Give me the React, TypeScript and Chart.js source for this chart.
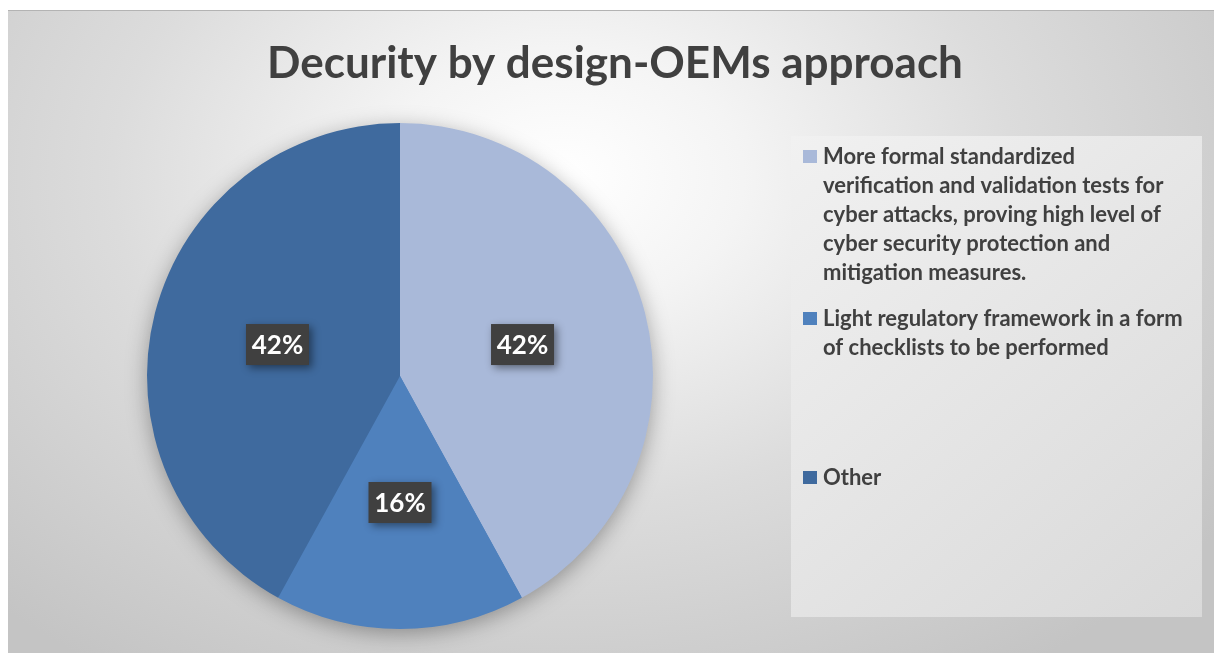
import React, { useEffect, useRef } from "react";
import { Chart, registerables } from "chart.js";

Chart.register(...registerables);

const titleText = "Decurity by design-OEMs approach";
const categories: string[][] = [
  [
    "More formal standardized",
    "verification and validation tests for",
    "cyber attacks, proving high level of",
    "cyber security protection and",
    "mitigation measures.",
  ],
  ["Light regulatory framework in a form", "of checklists to be performed"],
  ["Other"],
];
const values = [42, 16, 42];
const colors = ["#A9B9D9", "#4F81BD", "#3F6A9E"];
const legendItemY = [147, 309, 468]; // first-line centers (container coords)

const W = 1206;
const H = 643;

const decorPlugin = {
  id: "decor",
  beforeDatasetsDraw(chart: any) {
    const ctx = chart.ctx as CanvasRenderingContext2D;
    const meta = chart.getDatasetMeta(0);
    const arc = meta.data[0];
    if (!arc) return;
    const { x, y, outerRadius } = arc.getProps(["x", "y", "outerRadius"], true);
    ctx.save();
    ctx.shadowColor = "rgba(0,0,0,0.35)";
    ctx.shadowBlur = 22;
    ctx.shadowOffsetY = 5;
    ctx.fillStyle = colors[1];
    ctx.beginPath();
    ctx.arc(x, y, outerRadius - 1, 0, Math.PI * 2);
    ctx.fill();
    ctx.restore();
  },
  afterDatasetsDraw(chart: any) {
    const ctx = chart.ctx as CanvasRenderingContext2D;
    const meta = chart.getDatasetMeta(0);
    const total = values.reduce((a, b) => a + b, 0);
    meta.data.forEach((el: any, i: number) => {
      const p = el.tooltipPosition();
      const txt = Math.round((values[i] / total) * 100) + "%";
      const bw = 63;
      const bh = 41;
      ctx.save();
      ctx.shadowColor = "rgba(0,0,0,0.45)";
      ctx.shadowBlur = 8;
      ctx.shadowOffsetX = 3;
      ctx.shadowOffsetY = 3;
      ctx.fillStyle = "#404040";
      ctx.fillRect(p.x - bw / 2, p.y - bh / 2, bw, bh);
      ctx.restore();
      ctx.save();
      ctx.fillStyle = "#ffffff";
      ctx.font = "bold 26px Lato";
      ctx.textAlign = "center";
      ctx.textBaseline = "middle";
      ctx.fillText(txt, p.x, p.y + 1);
      ctx.restore();
    });
  },
  afterDraw(chart: any) {
    const ctx = chart.ctx as CanvasRenderingContext2D;
    // title
    ctx.save();
    ctx.fillStyle = "#404040";
    ctx.font = "bold 44px Lato";
    ctx.textAlign = "center";
    ctx.textBaseline = "alphabetic";
    ctx.fillText(titleText, W / 2 + 4, 68);
    ctx.restore();

    // legend box
    const bx = 783, by = 126, bw = 411, bh = 481;
    ctx.save();
    const g = ctx.createLinearGradient(bx, by, bx + bw, by + bh);
    g.addColorStop(0, "#f1f1f1");
    g.addColorStop(1, "#d9d9d9");
    ctx.fillStyle = g;
    ctx.fillRect(bx, by, bw, bh);
    ctx.restore();

    const lineH = 29;
    categories.forEach((lines, i) => {
      const y0 = legendItemY[i];
      ctx.save();
      ctx.fillStyle = colors[i];
      ctx.fillRect(795, y0 - 7, 14, 13);
      ctx.fillStyle = "#404040";
      ctx.font = "bold 22px Lato";
      ctx.textAlign = "left";
      ctx.textBaseline = "middle";
      lines.forEach((ln, j) => {
        ctx.fillText(ln, 815, y0 + j * lineH);
      });
      ctx.restore();
    });
  },
};

export default function App() {
  const ref = useRef<HTMLCanvasElement | null>(null);
  useEffect(() => {
    if (!ref.current) return;
    const chart = new Chart(ref.current, {
      type: "pie",
      data: {
        labels: categories,
        datasets: [
          {
            data: values,
            backgroundColor: colors,
            borderWidth: 0,
          },
        ],
      },
      options: {
        animation: false,
        responsive: false,
        maintainAspectRatio: false,
        layout: { padding: { left: 139, right: 561, top: 113, bottom: 24 } },
        plugins: {
          legend: { display: false },
          title: { display: false },
          tooltip: { enabled: false },
        },
      },
      plugins: [decorPlugin],
    });
    return () => chart.destroy();
  }, []);

  return (
    <div
      style={{
        position: "fixed",
        left: 8,
        top: 10,
        width: W,
        height: H,
        background:
          "radial-gradient(ellipse 68% 92% at 46% 26%, #ffffff 0%, #f4f4f4 22%, #dcdcdc 55%, #c4c4c4 100%)",
        boxShadow: "inset 0 1px 0 #b3b3b3",
      }}
    >
      <canvas ref={ref} width={W} height={H} style={{ display: "block" }} />
    </div>
  );
}
